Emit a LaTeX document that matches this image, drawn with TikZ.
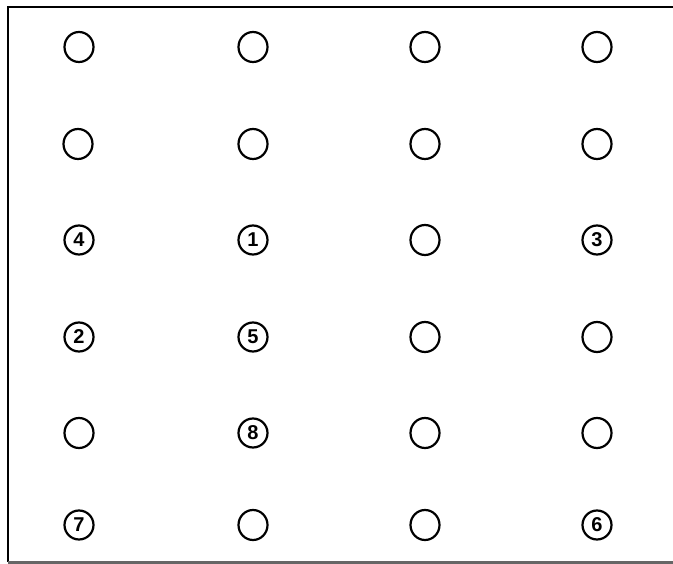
\documentclass[tikz,border=0pt]{standalone}
\usepackage{fontspec}
\setmainfont{Liberation Sans}
\usetikzlibrary{shapes.geometric}
\begin{document}
\begin{tikzpicture}[x=1pt,y=-1pt,
  hole/.style={ellipse,draw,line width=2.2pt,minimum width=29pt,minimum height=30pt,inner sep=0pt},
  numhole/.style={circle,draw,line width=2.2pt,minimum size=29pt,inner sep=0pt,
    font=\fontsize{20}{20}\selectfont\bfseries},
  frame/.style={line width=2.8pt}]
\useasboundingbox (0,0) rectangle (673,564);
\coordinate (tr) at (673,7);
\coordinate (tl) at (8,7);
\coordinate (bl) at (8,562);
\coordinate (br) at (673,562);
\draw[frame] (tr) -- (tl) -- (bl);
\draw[line width=3pt,black!60] (bl) -- (br);
\node[hole] (a11) at (79,47) {};
\node[hole] (a12) at (253,47) {};
\node[hole] (a13) at (425,47) {};
\node[hole] (a14) at (597,47) {};
\node[hole] (a21) at (78,144) {};
\node[hole] (a22) at (253,144) {};
\node[hole] (a23) at (425,144) {};
\node[hole] (a24) at (597,144) {};
\node[numhole] (a31) at (79,240) {4};
\node[numhole] (a32) at (253,240) {1};
\node[hole] (a33) at (425,240) {};
\node[numhole] (a34) at (597,240) {3};
\node[numhole] (a41) at (79,337) {2};
\node[numhole] (a42) at (253,337) {5};
\node[hole] (a43) at (425,337) {};
\node[hole] (a44) at (597,337) {};
\node[hole] (a51) at (79,433) {};
\node[numhole] (a52) at (253,433) {8};
\node[hole] (a53) at (425,433) {};
\node[hole] (a54) at (597,433) {};
\node[numhole] (a61) at (79,525) {7};
\node[hole] (a62) at (253,525) {};
\node[hole] (a63) at (425,525) {};
\node[numhole] (a64) at (597,525) {6};
\end{tikzpicture}
\end{document}
